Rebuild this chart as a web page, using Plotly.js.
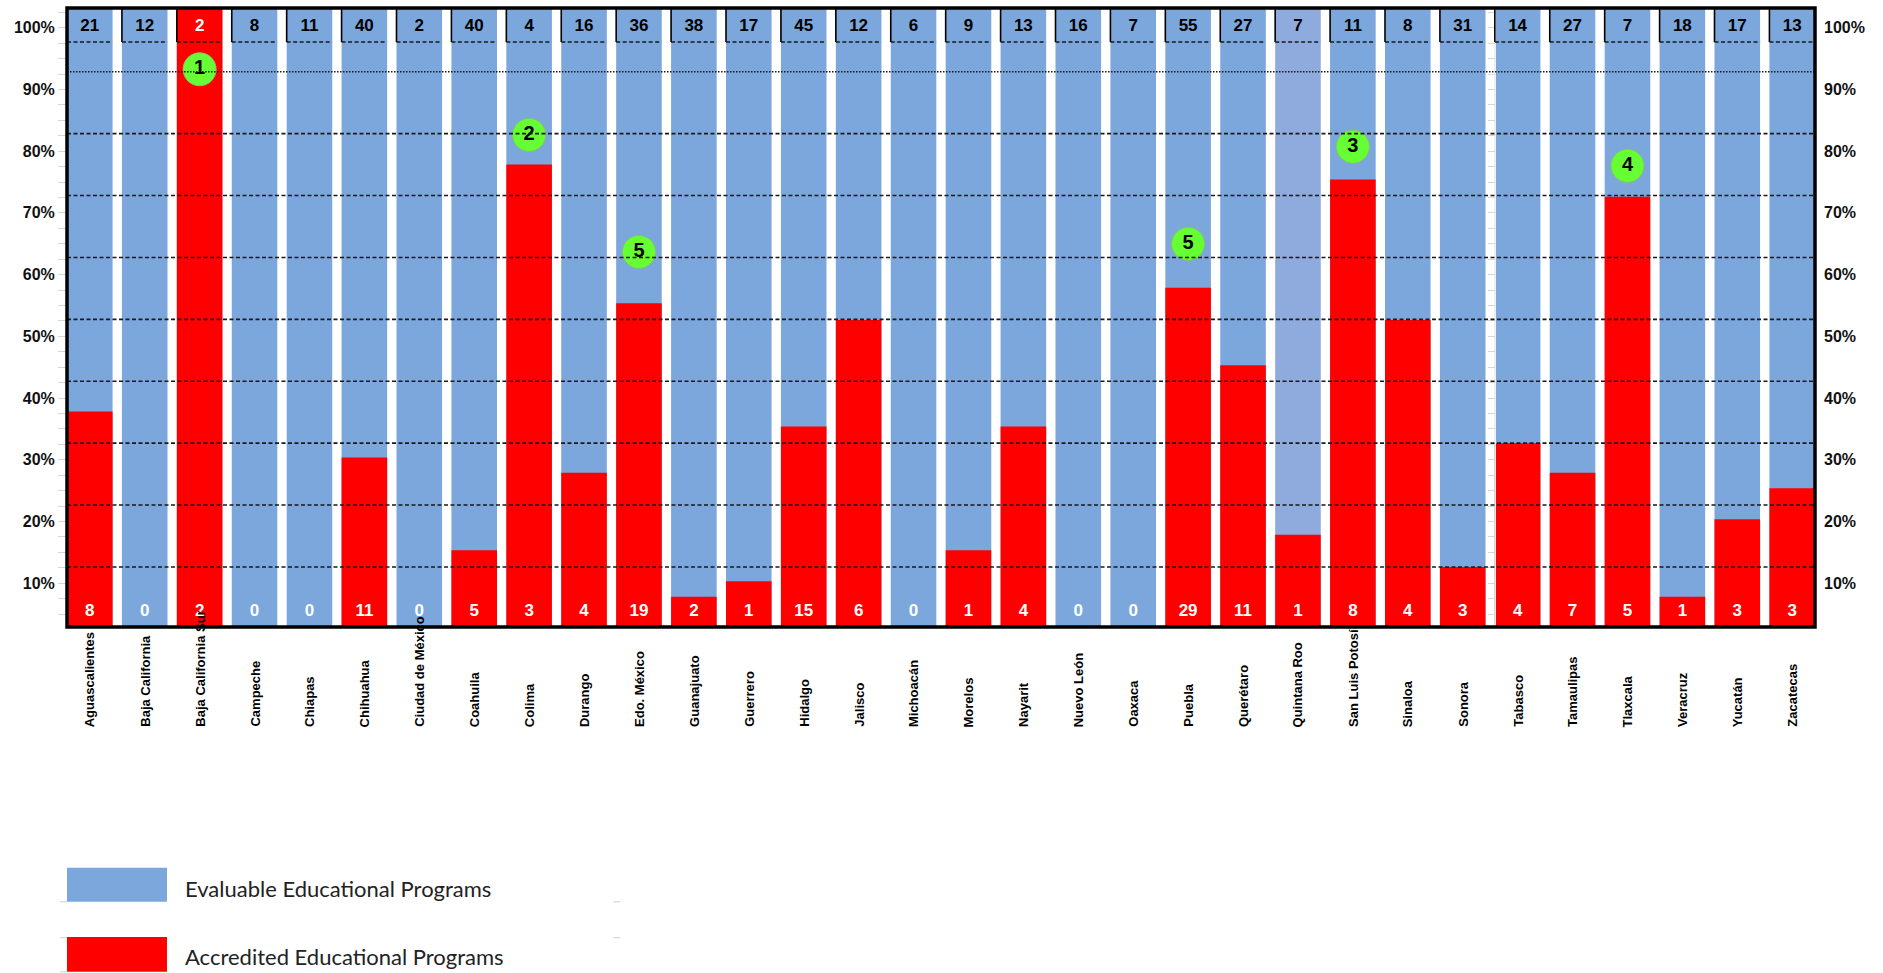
<!DOCTYPE html>
<html><head><meta charset="utf-8">
<script src="https://cdn.plot.ly/plotly-3.0.1.min.js"></script>
<style>html,body{margin:0;padding:0;background:#fff}</style>
</head><body><div id="chart" style="width:1883px;height:973px"></div>
<script>
const states = ['Aguascalientes','Baja California','Baja California Sur','Campeche','Chiapas','Chihuahua','Ciudad de México','Coahuila','Colima','Durango','Edo. México','Guanajuato','Guerrero','Hidalgo','Jalisco','Michoacán','Morelos','Nayarit','Nuevo León','Oaxaca','Puebla','Querétaro','Quintana Roo','San Luis Potosí','Sinaloa','Sonora','Tabasco','Tamaulipas','Tlaxcala','Veracruz','Yucatán','Zacatecas'];
const evaluableCount = [21,12,2,8,11,40,2,40,4,16,36,38,17,45,12,6,9,13,16,7,55,27,7,11,8,31,14,27,7,18,17,13];
const accreditedCount = [8,0,2,0,0,11,0,5,3,4,19,2,1,15,6,0,1,4,0,0,29,11,1,8,4,3,4,7,5,1,3,3];
const evaluablePct = [100,100,100,100,100,100,100,100,100,100,100,100,100,100,100,100,100,100,100,100,100,100,100,100,100,100,100,100,100,100,100,100];
const accreditedPct = [34.8,0,100,0,0,27.4,0,12.4,74.7,24.9,52.3,4.9,7.4,32.4,49.6,0,12.4,32.4,0,0,54.8,42.3,14.9,72.3,49.6,9.7,29.7,24.9,69.5,4.9,17.4,22.4];
const rankStates = ['Baja California Sur','Colima','San Luis Potosí','Tlaxcala','Edo. México','Puebla'];
const rankLabels = ['1','2','3','4','5','5'];
const rankPos = [90.1,79.5,77.6,74.5,60.6,61.9];
const pctTicks = [10,20,30,40,50,60,70,80,90,100];
const seriesNames = ['Evaluable Educational Programs','Accredited Educational Programs'];
const highlightState = 'Quintana Roo';

const BLUE = '#7BA7DD', BLUE_HL = '#8FAADC', RED = '#FF0000';
const BARGAP = 0.17, HW = (1 - BARGAP) / 2;
const TOP_Y = 96.9, BOT_Y = 2.5, CELL_Y = 94.5, GRID0 = 9.7;
const LABEL_RANGE = [2.9, 103.2];
const FONT = 'Liberation Sans, Arial, sans-serif';

const blueColors = states.map(s => s === highlightState ? BLUE_HL : BLUE);
const topColors = accreditedPct.map(v => v >= 100 ? '#ffffff' : '#000000');

const traces = [
  {type:'bar', name:seriesNames[0], x:states, y:evaluablePct, marker:{color:blueColors, line:{width:0}}, showlegend:false, hoverinfo:'x+y'},
  {type:'bar', name:seriesNames[1], x:states, y:accreditedPct, marker:{color:RED, line:{width:0}}, showlegend:false, hoverinfo:'x+y'},
  {type:'scatter', mode:'text', x:states, y:states.map(()=>TOP_Y), text:evaluableCount.map(String),
   textfont:{family:FONT, size:17, weight:700, color:topColors}, showlegend:false, hoverinfo:'skip', cliponaxis:false},
  {type:'scatter', mode:'text', x:states, y:states.map(()=>BOT_Y), text:accreditedCount.map(String),
   textfont:{family:FONT, size:17, weight:700, color:'#ffffff'}, showlegend:false, hoverinfo:'skip', cliponaxis:false},
  {type:'scatter', mode:'markers+text', x:rankStates, y:rankPos, text:rankLabels, textposition:'middle center',
   marker:{size:33, color:'#66FF33', line:{color:'#86c46a', width:1}},
   textfont:{family:FONT, size:20, weight:700, color:'#000'}, showlegend:false, hoverinfo:'skip', cliponaxis:false},
  {type:'scatter', x:[states[0]], y:[null], yaxis:'y2', showlegend:false, hoverinfo:'skip'},
  {type:'scatter', x:[states[0]], y:[null], yaxis:'y3', showlegend:false, hoverinfo:'skip'},
  {type:'scatter', x:[states[0]], y:[null], yaxis:'y4', showlegend:false, hoverinfo:'skip'}
];

const shapes = [];
for (let k = 0; k < 9; k++) {
  const y = GRID0 + 10 * k;
  shapes.push({type:'line', xref:'paper', yref:'y', x0:0, x1:1, y0:y, y1:y, layer:'above',
    line:{color:'#1a1a1a', width:1.6, dash: k === 8 ? '1.5px,1.5px' : '4px,2.5px'}});
}
states.forEach((s, i) => {
  shapes.push({type:'line', xref:'x', yref:'y', x0:i-HW, x1:i-HW, y0:CELL_Y, y1:100, layer:'above', line:{color:'#000', width:1.6}});
  shapes.push({type:'line', xref:'x', yref:'y', x0:i-HW, x1:i+HW, y0:CELL_Y, y1:CELL_Y, layer:'above', line:{color:'#1a1a1a', width:1.6, dash:'4px,2.5px'}});
});
shapes.push({type:'rect', xref:'paper', yref:'paper', x0:0, x1:1, y0:0, y1:1, layer:'above', line:{color:'#000', width:3.5}});
shapes.push({type:'rect', xref:'paper', yref:'paper', x0:0, x1:0.0572, y0:-0.389, y1:-0.444, fillcolor:BLUE, line:{width:0}});
shapes.push({type:'rect', xref:'paper', yref:'paper', x0:0, x1:0.0572, y0:-0.501, y1:-0.557, fillcolor:RED, line:{width:0}});
[[-0.444, 0], [-0.444, 0.3165], [-0.502, 0], [-0.502, 0.3165], [-0.557, 0]].forEach(([y, x]) => {
  shapes.push({type:'line', xref:'paper', yref:'paper', x0:x-0.004, x1:x, y0:y, y1:y, line:{color:'#d0d0d0', width:1}});
});

const annotations = states.map(s => ({
  xref:'x', yref:'paper', x:s, y:-0.1648, yanchor:'bottom', xanchor:'center', textangle:-90,
  text:s, showarrow:false, font:{family:FONT, size:13, weight:700, color:'#000'}
}));
annotations.push({xref:'paper', yref:'paper', x:0.0664, y:-0.4217, xanchor:'left', yanchor:'middle', showarrow:false,
  text:seriesNames[0], font:{family:'Lato, Carlito, sans-serif', size:22, color:'#222'}});
annotations.push({xref:'paper', yref:'paper', x:0.0664, y:-0.533, xanchor:'left', yanchor:'middle', showarrow:false,
  text:seriesNames[1], font:{family:'Lato, Carlito, sans-serif', size:22, color:'#222'}});

const tickFont = {family:FONT, size:16, weight:700, color:'#111'};
const layout = {
  width:1883, height:973,
  margin:{l:67, r:68, t:8, b:346, pad:0},
  paper_bgcolor:'#fff', plot_bgcolor:'#fff',
  barmode:'overlay', bargap:BARGAP,
  xaxis:{type:'category', range:[-HW, states.length-1+HW], showticklabels:false, ticks:'', showgrid:false, zeroline:false, showline:false},
  yaxis:{range:[0,100], visible:false, showgrid:false, zeroline:false, fixedrange:true},
  yaxis2:{overlaying:'y', side:'left', range:LABEL_RANGE, tickvals:pctTicks, ticktext:pctTicks.map(v=>v+'%'),
    ticks:'outside', ticklen:8, tickcolor:'#d6d6d6', tickwidth:1, showgrid:false, zeroline:false, showline:false,
    minor:{tick0:0, dtick:2.5, ticks:'outside', ticklen:8, tickcolor:'#d6d6d6', tickwidth:1, showgrid:false},
    tickfont:tickFont},
  yaxis3:{overlaying:'y', side:'right', anchor:'x', range:LABEL_RANGE, tickvals:pctTicks, ticktext:pctTicks.map(v=>v+'%'),
    ticks:'', showgrid:false, zeroline:false, showline:false, ticklabelstandoff:8, tickfont:tickFont},
  yaxis4:{overlaying:'y', anchor:'free', position:0.817, side:'left', range:LABEL_RANGE, showticklabels:false,
    tickvals:pctTicks, ticks:'outside', ticklen:7, tickcolor:'#d6d6d6', showgrid:false, zeroline:false,
    showline:true, linecolor:'#eeeeee', linewidth:1,
    minor:{tick0:0, dtick:2.5, ticks:'outside', ticklen:7, tickcolor:'#d6d6d6', showgrid:false}},
  shapes:shapes,
  annotations:annotations,
  showlegend:false
};

Plotly.newPlot('chart', traces, layout, {displayModeBar:false, staticPlot:true});
</script>
</body></html>
